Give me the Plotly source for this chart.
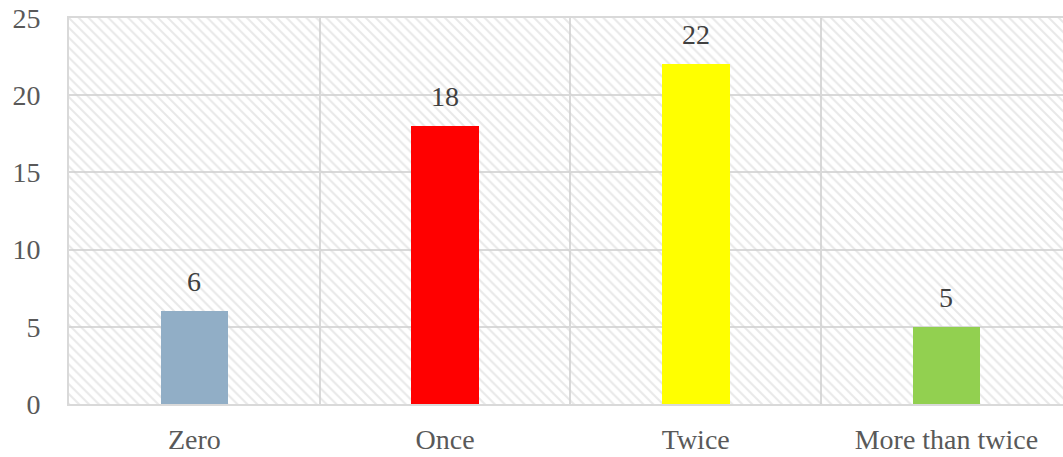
import plotly.graph_objects as go

# Chart data
categories = ["Zero", "Once", "Twice", "More than twice"]
counts = [6, 18, 22, 5]
bar_colors = ["#91AEC6", "#FF0000", "#FFFF00", "#92D050"]
y_ticks = [0, 5, 10, 15, 20, 25]

FONT = "Liberation Serif"
GRID = "#D9D9D9"
Y_MAX = 25
X_LO, X_HI = -0.5, 3.465

positions = list(range(len(categories)))
n = len(categories)

fig = go.Figure()

# Hatched plot-area background: one wide bar spanning all categories
fig.add_trace(go.Bar(
    x=[(n - 1) / 2],
    y=[Y_MAX],
    width=n,
    marker=dict(
        color="rgba(0,0,0,0)",
        line=dict(width=0),
        pattern=dict(shape="\\", fgcolor="#D2D2D2", bgcolor="rgba(0,0,0,0)",
                     size=7, solidity=0.3),
    ),
    hoverinfo="skip",
    showlegend=False,
))

fig.add_trace(go.Bar(
    x=positions,
    y=counts,
    width=0.27,
    marker=dict(color=bar_colors, line=dict(width=0)),
    showlegend=False,
))

# Value labels above each bar
for xi, v in zip(positions, counts):
    fig.add_annotation(
        x=xi, y=v, text=str(v), showarrow=False,
        yanchor="bottom", yshift=12,
        font=dict(family=FONT, size=28, color="#404040"),
    )

fig.update_layout(
    width=1063, height=457,
    margin=dict(l=69, r=0, t=18, b=53),
    paper_bgcolor="white",
    plot_bgcolor="white",
    barmode="overlay",
    bargap=0,
    font=dict(family=FONT, size=28, color="#595959"),
)

fig.update_xaxes(
    range=[X_LO, X_HI],
    tickvals=positions,
    ticktext=categories,
    showgrid=False,
    zeroline=False,
    automargin=False,
    showline=True, linecolor=GRID, linewidth=2, mirror=True,
    ticks="", ticklabelstandoff=9,
    minor=dict(tick0=0.5, dtick=1, showgrid=True, gridcolor=GRID, gridwidth=2, ticks=""),
    tickfont=dict(family=FONT, size=28, color="#595959"),
)

fig.update_yaxes(
    range=[0, Y_MAX],
    tickvals=y_ticks,
    showgrid=True, gridcolor=GRID, gridwidth=2,
    zeroline=False,
    automargin=False,
    showline=True, linecolor=GRID, linewidth=2,
    ticks="", ticklabelstandoff=21,
    tickfont=dict(family=FONT, size=28, color="#595959"),
)

fig.write_html("out.html")
